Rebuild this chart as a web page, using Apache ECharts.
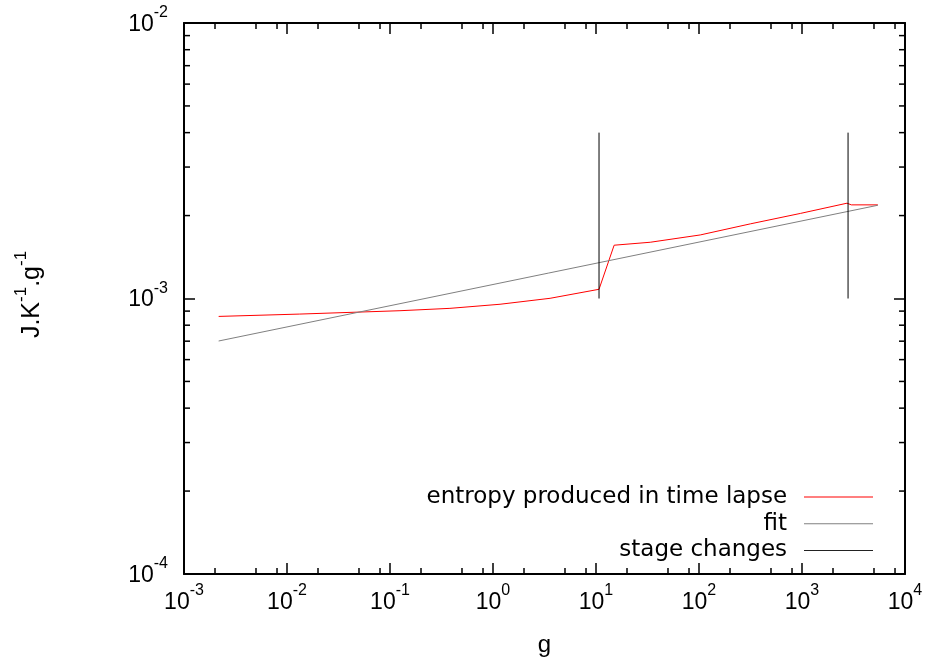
<!DOCTYPE html>
<html><head><meta charset="utf-8">
<script src="https://cdn.jsdelivr.net/npm/echarts@6/dist/echarts.min.js"></script>
<style>html,body{margin:0;padding:0;background:#fff}#c{width:928px;height:659px}</style>
</head><body><div id="c"></div>
<script>
// ---- data ----
const entropyX = [0.00217, 0.0133, 0.125, 0.382, 1.17, 3.58, 10.7, 15.0, 33.6, 102.8, 315, 964, 2735, 3013, 5450];
const entropyY = [8.61e-4, 8.78e-4, 9.03e-4, 9.21e-4, 9.53e-4, 1.0016e-3, 1.080e-3, 1.561e-3, 1.600e-3, 1.701e-3, 1.866e-3, 2.036e-3, 2.218e-3, 2.187e-3, 2.187e-3];
const fitX = [0.00217, 5450];
const fitY = [7.01e-4, 2.18e-3];
const stageX = [10.7, 2800];
const stageY = [1e-3, 4e-3];
const xTickExponents = [-3, -2, -1, 0, 1, 2, 3, 4];
const yTickExponents = [-4, -3, -2];
const xMinorMultipliers = [2, 5, 8];
const yMinorMultipliers = [2, 3, 4, 5, 6, 7, 8, 9];
const legendNames = ['entropy produced in time lapse', 'fit', 'stage changes'];

const FONT = 'Liberation Sans';
const LFONT = 'DejaVu Sans';
const chart = echarts.init(document.getElementById('c'));

const zip = (xs, ys) => xs.map((x, i) => [x, ys[i]]);
const minorData = [];
xTickExponents.slice(0, -1).forEach(e => xMinorMultipliers.forEach(m => minorData.push([m * Math.pow(10, e), 1e-3, 0])));
yTickExponents.slice(0, -1).forEach(e => yMinorMultipliers.forEach(m => minorData.push([1, m * Math.pow(10, e), 1])));

const supRich = {
  b: { fontSize: 23, fontFamily: FONT, color: '#000', lineHeight: 26, verticalAlign: 'bottom' },
  s: { fontSize: 16, fontFamily: FONT, color: '#000', lineHeight: 18, verticalAlign: 'bottom', padding: [0, 0, 15, 0] }
};
const fmt = v => '{b|10}{s|' + Math.round(Math.log10(v)) + '}';

const tickStyle = { show: true, inside: true, length: 11, lineStyle: { color: '#000', width: 1.5 } };
const lineStyleAxis = { show: true, lineStyle: { color: '#000', width: 2 } };

const xMin = Math.pow(10, xTickExponents[0]), xMax = Math.pow(10, xTickExponents[xTickExponents.length - 1]);
const yMin = Math.pow(10, yTickExponents[0]), yMax = Math.pow(10, yTickExponents[yTickExponents.length - 1]);

const legendCommon = {
  orient: 'horizontal', align: 'right', itemWidth: 69, itemHeight: 1, padding: 0,
  right: 55, selectedMode: false, icon: 'rect',
  formatter: n => n + ' \u2009',
  textStyle: { fontFamily: LFONT, fontSize: 23, color: '#000', lineHeight: 24 }
};

chart.setOption({
  animation: false,
  backgroundColor: '#fff',
  grid: { left: 184, right: 23, top: 23, bottom: 85, containLabel: false, outerBoundsMode: 'none' },
  legend: legendNames.map((n, i) => Object.assign({}, legendCommon, { data: [n], top: 485 + i * 26.7 })),
  xAxis: [
    {
      type: 'log', logBase: 10, min: xMin, max: xMax, interval: 1, position: 'bottom',
      name: 'g', nameLocation: 'middle', nameGap: 59,
      nameTextStyle: { fontFamily: FONT, fontSize: 24, color: '#000' },
      axisLine: lineStyleAxis, axisTick: tickStyle, splitLine: { show: false }, minorTick: { show: false },
      axisLabel: { margin: 14, formatter: fmt, rich: supRich }
    },
    {
      type: 'log', logBase: 10, min: xMin, max: xMax, interval: 1, position: 'top',
      axisLine: lineStyleAxis, axisTick: tickStyle, splitLine: { show: false }, axisLabel: { show: false }
    }
  ],
  yAxis: [
    {
      type: 'log', logBase: 10, min: yMin, max: yMax, interval: 1, position: 'left',
      name: '{a|J.K}{s|-1}{a|.g}{s|-1}', nameLocation: 'middle', nameGap: 139,
      nameTextStyle: { fontFamily: FONT, fontSize: 25, color: '#000', padding: [0, 0, 0, 8], rich: {
        a: { fontSize: 25, fontFamily: FONT, color: '#000', lineHeight: 28, verticalAlign: 'bottom' },
        s: { fontSize: 17, fontFamily: FONT, color: '#000', lineHeight: 19, verticalAlign: 'bottom', padding: [0, 0, 15, 0] }
      } },
      axisLine: lineStyleAxis, axisTick: tickStyle, splitLine: { show: false },
      axisLabel: { margin: 16, formatter: fmt, rich: supRich }
    },
    {
      type: 'log', logBase: 10, min: yMin, max: yMax, interval: 1, position: 'right',
      axisLine: lineStyleAxis, axisTick: tickStyle, splitLine: { show: false }, axisLabel: { show: false }
    }
  ],
  series: [
    {
      name: legendNames[0], type: 'line', data: zip(entropyX, entropyY), symbol: 'none',
      lineStyle: { color: '#ff0000', width: 1 }, itemStyle: { color: '#ff0000' }
    },
    {
      name: legendNames[1], type: 'line', data: zip(fitX, fitY), symbol: 'none',
      lineStyle: { color: '#808080', width: 1 }, itemStyle: { color: '#808080' }
    },
    ...stageX.map(x => ({
      name: legendNames[2], type: 'line', data: stageY.map(y => [x, y]), symbol: 'none',
      lineStyle: { color: '#000000', width: 1 }, itemStyle: { color: '#222222' }
    })),
    {
      type: 'custom', silent: true, data: minorData, encode: { x: 0, y: 1 }, clip: false,
      renderItem: function (params, api) {
        const cs = params.coordSys;
        const p = api.coord([api.value(0), api.value(1)]);
        const st = { stroke: '#000', lineWidth: 1.5 };
        const L = 6;
        if (api.value(2) === 0) {
          const yb = cs.y + cs.height, yt = cs.y;
          return { type: 'group', children: [
            { type: 'line', shape: { x1: p[0], y1: yb, x2: p[0], y2: yb - L }, style: st },
            { type: 'line', shape: { x1: p[0], y1: yt, x2: p[0], y2: yt + L }, style: st }
          ] };
        } else {
          const xl = cs.x, xr = cs.x + cs.width;
          return { type: 'group', children: [
            { type: 'line', shape: { x1: xl, y1: p[1], x2: xl + L, y2: p[1] }, style: st },
            { type: 'line', shape: { x1: xr, y1: p[1], x2: xr - L, y2: p[1] }, style: st }
          ] };
        }
      }
    }
  ]
});
</script>
</body></html>
